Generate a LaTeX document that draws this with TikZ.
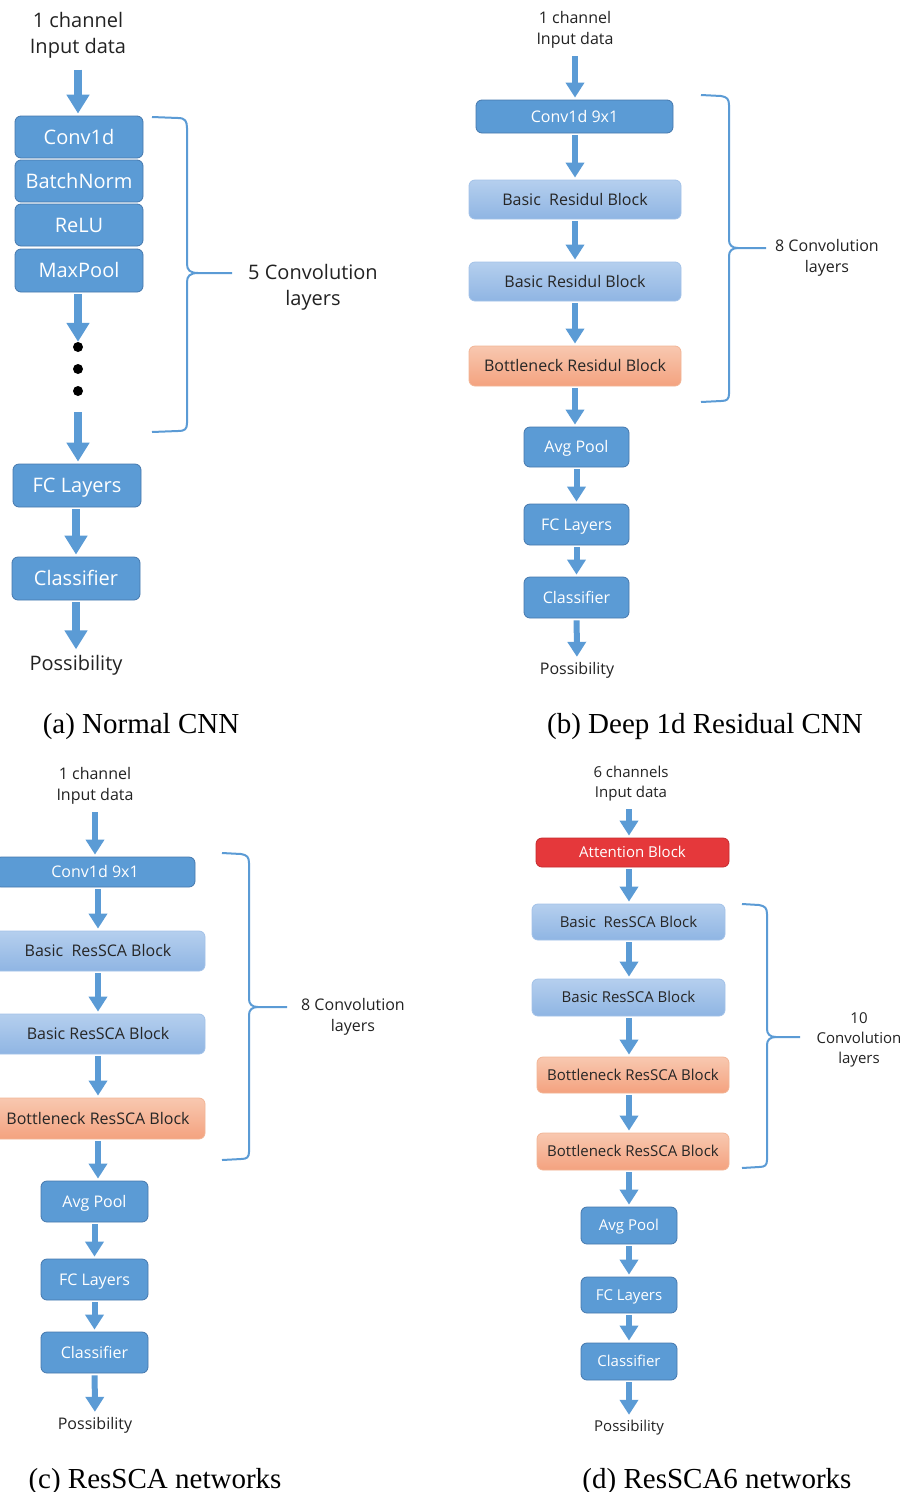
\documentclass[tikz,border=0pt]{standalone}
\usepackage{fontspec}
\setmainfont{Liberation Serif}
\newfontfamily\diagfont{Open Sans}
\usetikzlibrary{positioning, arrows.meta, calc}

\definecolor{boxblue}{HTML}{5B9BD5}
\definecolor{boxline}{HTML}{4578AD}
\definecolor{lighttop}{HTML}{B5CFEE}
\definecolor{lightbot}{HTML}{8FB5E3}
\definecolor{lightline}{HTML}{A3C2E8}
\definecolor{orangetop}{HTML}{F8C8B0}
\definecolor{orangebot}{HTML}{F4A27F}
\definecolor{orangeline}{HTML}{F2B596}
\definecolor{attred}{HTML}{E5383B}
\definecolor{redline}{HTML}{C42A2E}
\definecolor{arrowblue}{HTML}{5B9BD5}
\definecolor{boxtext}{HTML}{262626}
\definecolor{labtext}{HTML}{222222}

\begin{document}
\begin{tikzpicture}[
    x=1pt, y=-1pt,
    box/.style={rounded corners=6pt, inner sep=0pt, line width=0.8pt},
    darkbox/.style={box, draw=boxline, fill=boxblue, text=white},
    lightbox/.style={box, draw=lightline, top color=lighttop, bottom color=lightbot, text=boxtext},
    orangebox/.style={box, draw=orangeline, top color=orangetop, bottom color=orangebot, text=boxtext},
    redbox/.style={box, draw=redline, fill=attred, text=white},
    flow/.style={-{Triangle[width=18pt,length=15pt]}, line width=6pt, draw=arrowblue, shorten <=2pt, shorten >=2pt},
    bigflow/.style={flow, -{Triangle[width=22pt,length=19pt]}, line width=8pt},
    convbrace/.style={draw=arrowblue, line width=2pt},
    dot/.style={circle, fill=black, minimum size=10pt, inner sep=0pt},
    lab/.style={align=center, inner sep=0pt, text=labtext},
    bigfont/.style={font=\diagfont\fontsize{20}{26}\selectfont},
    midfont/.style={font=\diagfont\fontsize{16}{21}\selectfont},
    smallfont/.style={font=\diagfont\fontsize{15}{20}\selectfont},
    bigtext/.style={bigfont, text height=18pt, text depth=4pt},
    midtext/.style={midfont, text height=14.5pt, text depth=3pt},
    smalltext/.style={smallfont, text height=13.7pt, text depth=3pt},
    caption/.style={anchor=base, inner sep=0pt, font=\fontsize{29}{34}\selectfont}
]
\useasboundingbox (0,0) rectangle (915,1492);

% (a) normal CNN
\node[lab, bigfont] (ina) at (78,35.5) {1 channel\\Input data};
\node[darkbox, bigtext, minimum width=128pt, minimum height=42pt] (conva) at (79,137) {Conv1d};
\node[darkbox, bigtext, minimum width=128pt, minimum height=42pt] (bna) at (79,181) {BatchNorm};
\node[darkbox, bigtext, minimum width=128pt, minimum height=42pt] (relua) at (79,225) {ReLU};
\node[darkbox, bigtext, minimum width=128pt, minimum height=43pt] (poola) at (79,270.5) {MaxPool};
\node[dot] (d1) at (78,347) {};
\node[dot] (d2) at (78,369) {};
\node[dot] (d3) at (78,391) {};
\node[darkbox, bigtext, minimum width=128pt, minimum height=43pt] (fca) at (77,485.5) {FC Layers};
\node[darkbox, bigtext, minimum width=128pt, minimum height=43pt] (clsa) at (76,578.5) {Classifier};
\node[lab, bigfont] (possa) at (76,665.5) {Possibility};
\node[lab, bigfont] (laba) at (313,287.5) {5 Convolution\\layers};

\draw[bigflow, shorten <=11pt] (ina.south -| d1) -- (d1 |- conva.north);
\draw[bigflow, shorten >=0pt] (d1 |- poola.south) -- (d1);
\draw[bigflow, shorten <=16pt] (d3) -- (d3 |- fca.north);
\draw[bigflow] (clsa.north |- fca.south) -- (clsa.north);
\draw[bigflow, shorten >=6pt] (clsa) -- (possa);

\draw[convbrace] (152,117) -- (178,118) .. controls (185,118) and (187,121) .. (187,128)
    -- (187,264) .. controls (187,270) and (190,273) .. (198,273) -- (232,273);
\draw[convbrace] (198,273) .. controls (190,273) and (187,276) .. (187,282)
    -- (187,423) .. controls (187,429) and (185,431) .. (178,431) -- (152,432);

\node[caption] (capa) at (141,733) {(a) Normal CNN};

% (b) deep 1d residual CNN
\node[lab, midfont] (inb) at (575,29.5) {1 channel\\Input data};
\node[darkbox, midtext, minimum width=197pt, minimum height=33pt] (convb) at (574.5,116.5) {Conv1d 9x1};
\node[lightbox, midtext, minimum width=212pt, minimum height=39pt] (resb1) at (575,199.5) {Basic\ \ Residul Block};
\node[lightbox, midtext, minimum width=212pt, minimum height=39pt] (resb2) at (575,281.5) {Basic Residul Block};
\node[orangebox, midtext, minimum width=212pt, minimum height=40pt] (botb) at (575,366) {Bottleneck Residul Block};
\node[darkbox, midtext, minimum width=105pt, minimum height=40pt] (avgb) at (576.5,447) {Avg Pool};
\node[darkbox, midtext, minimum width=105pt, minimum height=41pt] (fcb) at (576.5,524.5) {FC Layers};
\node[darkbox, midtext, minimum width=105pt, minimum height=41pt] (clsb) at (576.5,597.5) {Classifier};
\node[lab, midfont] (possb) at (577,670) {Possibility};
\node[lab, midfont] (labb) at (827,258) {8 Convolution\\layers};

\draw[flow, shorten <=8pt] (inb.south) -- (inb.south |- convb.north);
\draw[flow] (resb1.north |- convb.south) -- (resb1.north);
\draw[flow] (resb2.north |- resb1.south) -- (resb2.north);
\draw[flow] (botb.north |- resb2.south) -- (botb.north);
\draw[flow] (botb.south) -- (botb.south |- avgb.north);
\draw[flow] (fcb.north |- avgb.south) -- (fcb.north);
\draw[flow] (clsb.north |- fcb.south) -- (clsb.north);
\draw[flow, shorten >=5pt] (clsb) -- (possb);

\draw[convbrace] (701,95) -- (721,96) .. controls (727,97) and (729,99) .. (729,105)
    -- (729,240) .. controls (729,245) and (732,248) .. (738,248) -- (766,248);
\draw[convbrace] (738,248) .. controls (732,248) and (729,251) .. (729,256)
    -- (729,394) .. controls (729,399) and (727,401) .. (721,401) -- (701,402);

\node[caption] (capb) at (705,733) {(b) Deep 1d Residual CNN};

% (c) ResSCA networks
\node[lab, midfont] (inc) at (95,785.5) {1 channel\\Input data};
\node[darkbox, midtext, minimum width=200pt, minimum height=30pt] (convc) at (95,872) {Conv1d 9x1};
\node[lightbox, midtext, minimum width=214pt, minimum height=40pt] (resc1) at (98,951) {Basic\ \ ResSCA Block};
\node[lightbox, midtext, minimum width=214pt, minimum height=40pt] (resc2) at (98,1034) {Basic ResSCA Block};
\node[orangebox, midtext, minimum width=214pt, minimum height=41pt] (botc) at (98,1118.5) {Bottleneck ResSCA Block};
\node[darkbox, midtext, minimum width=107pt, minimum height=41pt] (avgc) at (94.5,1201.5) {Avg Pool};
\node[darkbox, midtext, minimum width=107pt, minimum height=41pt] (fcc) at (94.5,1279.5) {FC Layers};
\node[darkbox, midtext, minimum width=107pt, minimum height=41pt] (clsc) at (94.5,1352.5) {Classifier};
\node[lab, midfont] (possc) at (95,1425) {Possibility};
\node[lab, midfont] (labc) at (353,1017) {8 Convolution\\layers};

\draw[flow, shorten <=8pt] (inc.south) -- (inc.south |- convc.north);
\draw[flow] (resc1.north |- convc.south) -- (resc1.north);
\draw[flow] (resc2.north |- resc1.south) -- (resc2.north);
\draw[flow] (botc.north |- resc2.south) -- (botc.north);
\draw[flow] (botc.south) -- (botc.south |- avgc.north);
\draw[flow] (fcc.north |- avgc.south) -- (fcc.north);
\draw[flow] (clsc.north |- fcc.south) -- (clsc.north);
\draw[flow, shorten >=5pt] (clsc) -- (possc);

\draw[convbrace] (222,853) -- (241,854) .. controls (247,855) and (249,857) .. (249,863)
    -- (249,999) .. controls (249,1004) and (252,1007) .. (258,1007) -- (287,1007);
\draw[convbrace] (258,1007) .. controls (252,1007) and (249,1010) .. (249,1015)
    -- (249,1152) .. controls (249,1157) and (247,1159) .. (241,1159) -- (222,1160);

\node[caption] (capc) at (155,1488) {(c) ResSCA networks};

% (d) ResSCA6 networks
\node[lab, smallfont] (ind) at (631,783.5) {6 channels\\Input data};
\node[redbox, smalltext, minimum width=193pt, minimum height=29pt] (attd) at (632.5,852.5) {Attention Block};
\node[lightbox, smalltext, minimum width=193pt, minimum height=36pt] (resd1) at (628.5,922) {Basic\ \ ResSCA Block};
\node[lightbox, smalltext, minimum width=193pt, minimum height=37pt] (resd2) at (628.5,997.5) {Basic ResSCA Block};
\node[orangebox, smalltext, minimum width=192pt, minimum height=36pt] (botd1) at (633,1075) {Bottleneck ResSCA Block};
\node[orangebox, smalltext, minimum width=192pt, minimum height=37pt] (botd2) at (633,1151.5) {Bottleneck ResSCA Block};
\node[darkbox, smalltext, minimum width=96pt, minimum height=37pt] (avgd) at (629,1225.5) {Avg Pool};
\node[darkbox, smalltext, minimum width=96pt, minimum height=36pt] (fcd) at (629,1295) {FC Layers};
\node[darkbox, smalltext, minimum width=96pt, minimum height=37pt] (clsd) at (629,1361.5) {Classifier};
\node[lab, smallfont] (possd) at (629,1427.5) {Possibility};
\node[lab, smallfont] (labd) at (859,1039.5) {10\\Convolution\\layers};

\draw[flow, shorten <=8pt] (avgd.north |- ind.south) -- (avgd.north |- attd.north);
\draw[flow] (avgd.north |- attd.south) -- (avgd.north |- resd1.north);
\draw[flow] (avgd.north |- resd1.south) -- (avgd.north |- resd2.north);
\draw[flow] (avgd.north |- resd2.south) -- (avgd.north |- botd1.north);
\draw[flow] (avgd.north |- botd1.south) -- (avgd.north |- botd2.north);
\draw[flow] (avgd.north |- botd2.south) -- (avgd.north);
\draw[flow] (fcd.north |- avgd.south) -- (fcd.north);
\draw[flow] (clsd.north |- fcd.south) -- (clsd.north);
\draw[flow, shorten >=5pt] (clsd) -- (possd);

\draw[convbrace] (742,904) -- (759,905) .. controls (765,906) and (767,908) .. (767,914)
    -- (767,1029) .. controls (767,1034) and (770,1037) .. (776,1037) -- (800,1037);
\draw[convbrace] (776,1037) .. controls (770,1037) and (767,1040) .. (767,1045)
    -- (767,1160) .. controls (767,1165) and (765,1167) .. (759,1167) -- (742,1168);

\node[caption] (capd) at (717,1488) {(d) ResSCA6 networks};

\end{tikzpicture}
\end{document}
